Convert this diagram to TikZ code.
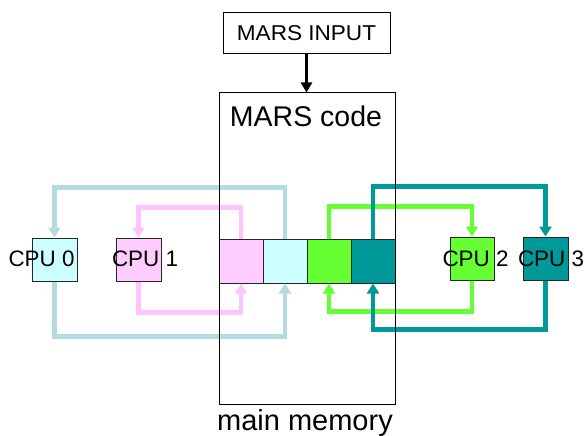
\documentclass[tikz,border=0pt]{standalone}
\usepackage{fontspec}
\setmainfont{Liberation Sans}
\usetikzlibrary{arrows.meta}
\definecolor{cyanfill}{HTML}{CCFFFF}
\definecolor{cyanline}{HTML}{B4DCE0}
\definecolor{pinkfill}{HTML}{FFCCFF}
\definecolor{pinkline}{HTML}{FFC4FF}
\definecolor{greenfill}{HTML}{66FF33}
\definecolor{tealfill}{HTML}{009999}
\begin{document}
\begin{tikzpicture}[x=1pt,y=-1pt,
  cell/.style={draw=black!85, line width=1pt, inner sep=0pt, minimum width=44pt, minimum height=44pt},
  cpubox/.style={draw=black!85, line width=1pt, inner sep=0pt, minimum width=45pt, minimum height=43pt},
  cputext/.style={inner sep=0pt, anchor=base, font=\fontsize{22.4pt}{26pt}\selectfont},
  flow/.style={line width=4.5pt, -{Triangle[width=12pt,length=10pt]}},
]
\useasboundingbox (0,0) rectangle (584,436);
\fill[white] (0,0) rectangle (584,436);

% memory cells
\node[cell, fill=pinkfill] (c0) at (241,261) {};
\node[cell, fill=cyanfill] (c1) at (285,261) {};
\node[cell, fill=greenfill] (c2) at (329,261) {};
\node[cell, fill=tealfill] (c3) at (373,261) {};

% CPU boxes
\node[cpubox, fill=cyanfill] (p0) at (54.5,259.5) {};
\node[cpubox, fill=pinkfill] (p1) at (138.5,259.5) {};
\node[cpubox, fill=greenfill, minimum width=44pt] (p2) at (472,258.5) {};
\node[cpubox, fill=tealfill] (p3) at (545.5,258.5) {};

% connectors
\draw[cyanline, flow] (c1.north) -- ++(0,-51) -| (p0.north);
\draw[cyanline, flow] (p0.south) -- ++(0,55) -| (c1.south);
\draw[pinkline, flow] (c0.north) -- ++(0,-31) -| (p1.north);
\draw[pinkline, flow] (p1.south) -- ++(0,31) -| (c0.south);
\draw[greenfill, flow] (c2.north) -- ++(0,-32) -| (p2.north);
\draw[greenfill, flow] (p2.south) -- ++(0,31) -| (c2.south);
\draw[tealfill, flow] (c3.north) -- ++(0,-52) -| (p3.north);
\draw[tealfill, flow] (p3.south) -- ++(0,49) -| (c3.south);

% main memory
\node[draw, line width=1pt, inner sep=0pt, minimum width=176pt, minimum height=311pt] (mem) at (307,248.5) {};
\node[inner sep=0pt, anchor=base, font=\fontsize{28.5pt}{32pt}\selectfont] (code) at (306,126) {MARS code};
\node[inner sep=0pt, anchor=base, font=\fontsize{29pt}{32pt}\selectfont] (mm) at (305,430) {main memory};

% input
\node[draw, line width=1pt, inner sep=0pt, minimum width=167pt, minimum height=41pt,
      font=\fontsize{21.5pt}{25pt}\selectfont] (inp) at (306.5,33.5) {\scalebox{1.05}[1]{MARS INPUT}};
\draw[line width=3pt, -{Triangle[width=11pt,length=10pt]}] (inp.south) -- (inp.south |- mem.north);

% CPU labels
\node[cputext] (t0) at (41.5,266) {CPU 0};
\node[cputext] (t1) at (145,266) {CPU 1};
\node[cputext] (t2) at (475.5,266) {CPU 2};
\node[cputext] (t3) at (551,266) {CPU 3};
\end{tikzpicture}
\end{document}
